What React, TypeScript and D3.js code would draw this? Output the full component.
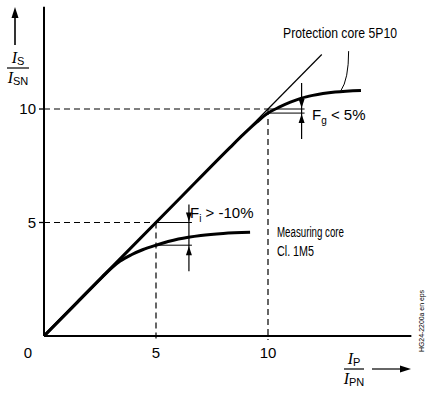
import React, { useEffect, useRef } from 'react';
import * as d3 from 'd3';

// curve points, [I_P/I_PN, I_S/I_SN]
const idealLine: [number, number][] = [[0, 0], [12.4, 12.4]];
const measuringCore: [number, number][] = [
  [0, 0], [1.5, 1.5], [2.6, 2.6], [3.0, 2.98], [3.4, 3.3], [3.9, 3.58], [4.4, 3.8],
  [5, 4.0], [6, 4.27], [7, 4.43], [8, 4.52], [9.2, 4.57],
];
const protectionCore: [number, number][] = [
  [0, 0], [3, 3], [6, 6], [8.3, 8.3], [8.9, 8.88], [9.5, 9.42], [10, 9.82],
  [10.5, 10.08], [11, 10.3], [11.5, 10.48], [12, 10.6], [13, 10.75], [14.15, 10.82],
];
const xTicks = [0, 5, 10];
const yTicks = [5, 10];
const xMax = 16.4;
const yMax = 14.5;

const NARROW = '"Liberation Sans Narrow", "Arial Narrow", "Liberation Sans", sans-serif';

export default function App() {
  const ref = useRef<SVGSVGElement>(null);

  useEffect(() => {
    const svg = d3.select(ref.current);
    svg.selectAll('*').remove();

    const x = d3.scaleLinear().domain([0, 10]).range([44, 268]);
    const y = d3.scaleLinear().domain([0, 10]).range([336, 109]);

    const g = svg.append('g');

    // axes
    g.append('line')
      .attr('x1', x(0)).attr('x2', x(0))
      .attr('y1', y(0)).attr('y2', y(yMax))
      .attr('stroke', '#000').attr('stroke-width', 2);
    g.append('line')
      .attr('x1', x(0)).attr('x2', x(xMax))
      .attr('y1', y(0)).attr('y2', y(0))
      .attr('stroke', '#000').attr('stroke-width', 2);

    // y ticks
    yTicks.forEach((t) => {
      g.append('line')
        .attr('x1', x(0) - 5).attr('x2', x(0))
        .attr('y1', y(t)).attr('y2', y(t))
        .attr('stroke', '#000').attr('stroke-width', 1.3);
      g.append('text')
        .attr('x', x(0) - 8).attr('y', y(t) + 5)
        .attr('text-anchor', 'end')
        .attr('font-family', NARROW).attr('font-size', 15)
        .text(t);
    });
    // x tick labels
    xTicks.forEach((t) => {
      g.append('text')
        .attr('x', t === 0 ? x(0) - 16 : x(t)).attr('y', 358)
        .attr('text-anchor', 'middle')
        .attr('font-family', NARROW).attr('font-size', 15)
        .text(t);
    });

    // dashed guides
    const dash = (x1: number, y1: number, x2: number, y2: number) =>
      g.append('line')
        .attr('x1', x1).attr('y1', y1).attr('x2', x2).attr('y2', y2)
        .attr('stroke', '#000').attr('stroke-width', 1.2)
        .attr('stroke-dasharray', '6,4');
    dash(x(0), y(10), x(10), y(10));
    dash(x(0), y(5), x(5), y(5));
    dash(x(5), y(5), x(5), y(0) + 4);
    dash(x(10), y(10), x(10), y(0) + 4);

    const line = d3.line<[number, number]>()
      .x((d) => x(d[0]))
      .y((d) => y(d[1]))
      .curve(d3.curveMonotoneX);

    g.append('path').datum(idealLine)
      .attr('d', line).attr('fill', 'none')
      .attr('stroke', '#000').attr('stroke-width', 1.2);
    g.append('path').datum(measuringCore)
      .attr('d', line).attr('fill', 'none')
      .attr('stroke', '#000').attr('stroke-width', 3);
    g.append('path').datum(protectionCore)
      .attr('d', line).attr('fill', 'none')
      .attr('stroke', '#000').attr('stroke-width', 3);

    // arrowheads
    const head = (tx: number, ty: number, dir: 'up' | 'down' | 'right', len = 9, w = 3) => {
      let pts: [number, number][];
      if (dir === 'up') pts = [[tx, ty], [tx - w, ty + len], [tx + w, ty + len]];
      else if (dir === 'down') pts = [[tx, ty], [tx - w, ty - len], [tx + w, ty - len]];
      else pts = [[tx, ty], [tx - len, ty - w], [tx - len, ty + w]];
      g.append('path').attr('d', 'M' + pts.join('L') + 'Z').attr('fill', '#000');
    };
    const thin = (x1: number, y1: number, x2: number, y2: number, w = 1) =>
      g.append('line')
        .attr('x1', x1).attr('y1', y1).attr('x2', x2).attr('y2', y2)
        .attr('stroke', '#000').attr('stroke-width', w);

    // F_i dimension
    const fiX = x(6.47);
    thin(x(5), y(5), fiX + 3, y(5));
    thin(x(5), y(4.0), fiX + 3, y(4.0));
    thin(fiX, y(5) - 18, fiX, y(4.0) + 26, 1.2);
    head(fiX, y(5) - 1, 'down');
    head(fiX, y(4.0) + 1, 'up');

    // F_g dimension
    const fgX = x(11.5);
    thin(x(10), y(10), fgX + 3, y(10));
    thin(x(10), y(9.82), fgX + 3, y(9.82));
    thin(fgX, y(10) - 26, fgX, y(9.82) + 26, 1.2);
    head(fgX, y(10) - 1, 'down');
    head(fgX, y(9.82) + 1, 'up');

    // leader for protection core label
    g.append('path')
      .attr('d', `M${x(13.25)},${y(10.8)} Q${x(13.6)},${y(11.3)} ${x(13.6)},${y(12.55)}`)
      .attr('fill', 'none').attr('stroke', '#000').attr('stroke-width', 1);

    const txt = (s: string, tx: number, ty: number, len: number, size = 14) =>
      g.append('text')
        .attr('x', tx).attr('y', ty)
        .attr('font-family', NARROW).attr('font-size', size)
        .attr('textLength', len).attr('lengthAdjust', 'spacingAndGlyphs')
        .text(s);

    txt('Protection core 5P10', 283, 38, 114);
    txt('Measuring core', 277, 237, 67);
    txt('Cl. 1M5', 277, 256, 37);

    const fLabel = (tx: number, ty: number, sub: string, rest: string) => {
      const t = g.append('text')
        .attr('x', tx).attr('y', ty)
        .attr('font-family', NARROW).attr('font-size', 15);
      t.append('tspan').text('F');
      t.append('tspan').attr('font-size', 10).attr('dy', 4).text(sub);
      t.append('tspan').attr('dy', -4).text(rest);
    };
    fLabel(190, 218, 'i', ' > -10%');
    fLabel(312, 120, 'g', ' < 5%');

    // axis quantity labels as fractions
    const frac = (cx: number, lineY: number, num: string, den: string, w: number) => {
      const n = g.append('text')
        .attr('x', cx).attr('y', lineY - 5).attr('text-anchor', 'middle');
      n.append('tspan').attr('font-family', '"Liberation Serif", serif')
        .attr('font-style', 'italic').attr('font-size', 16).text('I');
      n.append('tspan').attr('font-family', NARROW).attr('font-size', 11)
        .attr('dy', 2).text(num);
      g.append('line')
        .attr('x1', cx - w / 2).attr('x2', cx + w / 2)
        .attr('y1', lineY).attr('y2', lineY)
        .attr('stroke', '#000').attr('stroke-width', 1.2);
      const d = g.append('text')
        .attr('x', cx).attr('y', lineY + 15).attr('text-anchor', 'middle');
      d.append('tspan').attr('font-family', '"Liberation Serif", serif')
        .attr('font-style', 'italic').attr('font-size', 16).text('I');
      d.append('tspan').attr('font-family', NARROW).attr('font-size', 11)
        .attr('dy', 2).text(den);
    };
    frac(18, 68, 'S', 'SN', 22);
    frac(354, 369, 'P', 'PN', 20);

    // direction arrows
    thin(15, 45, 15, 14, 1.6);
    head(15, 7, 'up', 11, 3.5);
    thin(372, 369, 402, 369, 1.2);
    head(411, 369, 'right', 11, 3.5);

    // drawing reference
    g.append('text')
      .attr('transform', 'translate(424,352) rotate(-90)')
      .attr('font-family', NARROW).attr('font-size', 8)
      .attr('textLength', 62).attr('lengthAdjust', 'spacingAndGlyphs')
      .text('HG24-2200a en eps');
  }, []);

  return (
    <svg
      ref={ref}
      width={428}
      height={394}
      style={{ position: 'absolute', left: 0, top: 0, background: '#fff' }}
    />
  );
}
